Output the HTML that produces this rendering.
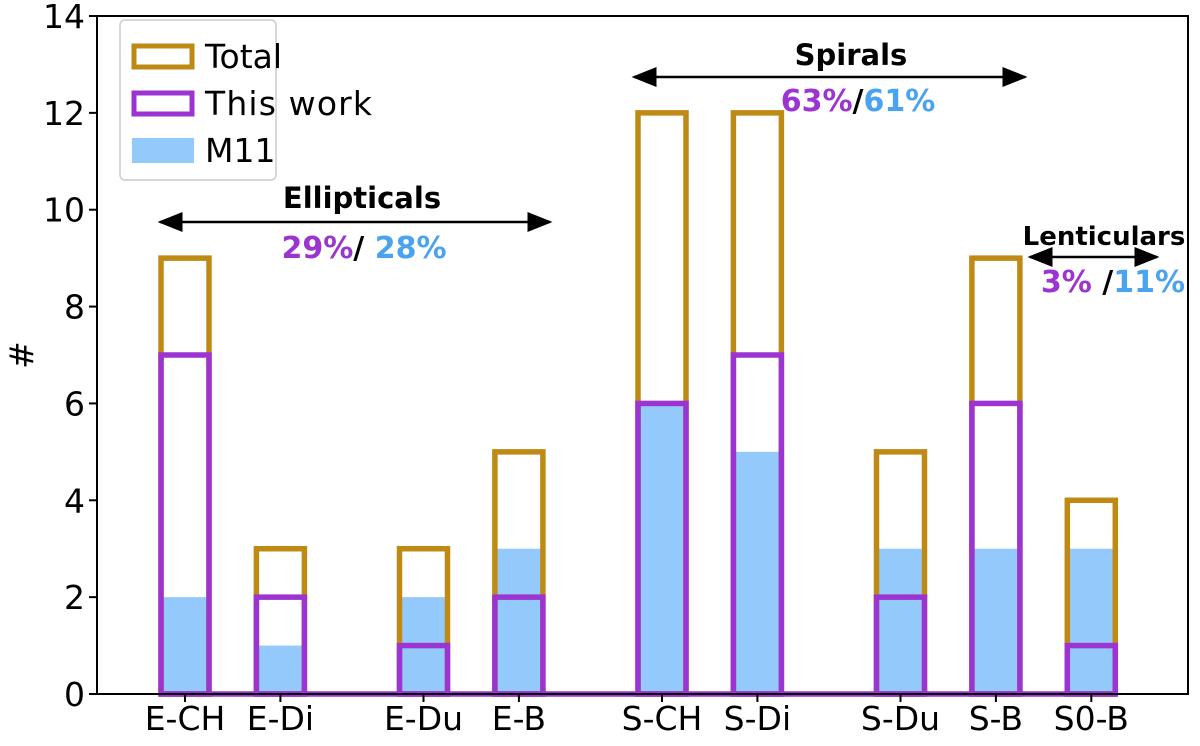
<!DOCTYPE html>
<html><head><meta charset="utf-8"><style>
html,body{margin:0;padding:0;background:#fff;}
svg text{font-family:"DejaVu Sans","Liberation Sans",sans-serif;}
</style></head><body>
<svg id="chart" width="1200" height="741" viewBox="0 0 1200 741">
<g id="bars"></g>
<g id="axes"></g>
<g>
<rect x="120" y="20" width="156" height="160" rx="5" fill="#fff" stroke="#ccc" stroke-width="1.5"/>
<rect x="134" y="46" width="58" height="21" fill="none" stroke="#bf8a14" stroke-width="5"/>
<text x="205" y="68" font-size="33">Total</text>
<rect x="134" y="93" width="58" height="21" fill="none" stroke="#9b34d0" stroke-width="5"/>
<text x="205" y="115" font-size="33" textLength="167">This work</text>
<rect x="132" y="138" width="62" height="25" fill="#94c9fb"/>
<text x="205" y="162" font-size="33">M11</text>
</g>
<defs><marker id="ah" markerWidth="10" markerHeight="8" refX="9" refY="4" orient="auto-start-reverse"><path d="M0,0 L10,4 L0,8 z" fill="#000"/></marker></defs>
<g>
<text x="362" y="208" font-size="29" font-weight="bold" text-anchor="middle">Ellipticals</text>
<line x1="160" y1="222" x2="550" y2="222" stroke="#000" stroke-width="2.5" marker-start="url(#ah)" marker-end="url(#ah)"/>
<text x="364" y="258" font-size="30" font-weight="bold" text-anchor="middle"><tspan fill="#9b34d0">29%</tspan><tspan fill="#000">/ </tspan><tspan fill="#4aa3f0">28%</tspan></text>
<text x="851" y="65" font-size="29" font-weight="bold" text-anchor="middle">Spirals</text>
<line x1="634" y1="77" x2="1025" y2="77" stroke="#000" stroke-width="2.5" marker-start="url(#ah)" marker-end="url(#ah)"/>
<text x="858" y="111" font-size="30" font-weight="bold" text-anchor="middle"><tspan fill="#9b34d0">63%</tspan><tspan fill="#000">/</tspan><tspan fill="#4aa3f0">61%</tspan></text>
<text x="1104" y="245" font-size="26" font-weight="bold" text-anchor="middle">Lenticulars</text>
<line x1="1030" y1="257" x2="1157" y2="257" stroke="#000" stroke-width="2.5" marker-start="url(#ah)" marker-end="url(#ah)"/>
<text x="1113" y="292" font-size="30" font-weight="bold" text-anchor="middle"><tspan fill="#9b34d0">3%</tspan><tspan fill="#000"> /</tspan><tspan fill="#4aa3f0">11%</tspan></text>
</g>
</svg>
<script>
const categories = ["E-CH","E-Di","E-Du","E-B","S-CH","S-Di","S-Du","S-B","S0-B"];
const positions = [0,1,2.5,3.5,5,6,7.5,8.5,9.5];
const totalValues = [9,3,3,5,12,12,5,9,4];
const thisWorkValues = [7,2,1,2,6,7,2,6,1];
const m11Values = [2,1,2,3,6,5,3,3,3];
const yTicks = [0,2,4,6,8,10,12,14];

const NS="http://www.w3.org/2000/svg";
const L=97,R=1188,T=16,B=694;
const xs=v=>185+v*95.4;
const ys=v=>B-(v/14)*(B-T);
const BW=48;
function mk(tag,attrs,parent){const e=document.createElementNS(NS,tag);for(const k in attrs)e.setAttribute(k,attrs[k]);parent.appendChild(e);return e;}
const bars=document.getElementById('bars'),axes=document.getElementById('axes');
categories.forEach((c,i)=>{
  const x=xs(positions[i])-BW/2;
  const r=mk('rect',{x:x,y:ys(m11Values[i]),width:BW,height:B-ys(m11Values[i]),fill:'#94c9fb'},bars);
  
  
});
categories.forEach((c,i)=>{
  const x=xs(positions[i])-BW/2;
  const r=mk('rect',{x:x,y:ys(totalValues[i]),width:BW,height:B-ys(totalValues[i]),fill:'none',stroke:'#bf8a14','stroke-width':5.5},bars);
  
  
});
const base=mk('line',{x1:xs(positions[0])-BW/2,x2:xs(positions[positions.length-1])+BW/2,y1:B,y2:B,stroke:'#9b34d0','stroke-width':5.5},bars);


categories.forEach((c,i)=>{
  const x=xs(positions[i])-BW/2;
  const r=mk('rect',{x:x,y:ys(thisWorkValues[i]),width:BW,height:B-ys(thisWorkValues[i]),fill:'none',stroke:'#9b34d0','stroke-width':5.5},bars);
  
  
});
const frame=mk('rect',{x:L,y:T,width:R-L,height:B-T,fill:'none',stroke:'#000','stroke-width':2},axes);


yTicks.forEach(t=>{
  mk('line',{x1:L-8,x2:L,y1:ys(t),y2:ys(t),stroke:'#000','stroke-width':2},axes);
  const tx=mk('text',{x:L-12,y:ys(t)+12,'font-size':33,'text-anchor':'end'},axes);
  tx.textContent=t;
  
  
});
categories.forEach((c,i)=>{
  const x=xs(positions[i]);
  mk('line',{x1:x,x2:x,y1:B,y2:B+8,stroke:'#000','stroke-width':2},axes);
  const tx=mk('text',{x:x,y:B+36,'font-size':33,'text-anchor':'middle'},axes);
  tx.textContent=c;
  
  
});
const yt=mk('text',{x:0,y:0,'font-size':33,'text-anchor':'middle',transform:'translate(33,355) rotate(-90)'},axes);
yt.textContent='#';


</script>
</body></html>
